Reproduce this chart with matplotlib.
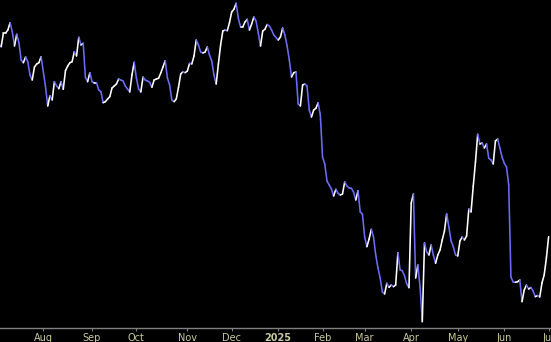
import numpy as np
import matplotlib
matplotlib.use("Agg")
import matplotlib.pyplot as plt
from matplotlib.collections import LineCollection

# NYSE holidays in the period (trading-day axis)
holidays = ["2024-07-04", "2024-09-02", "2024-11-28", "2024-12-25", "2025-01-01",
            "2025-01-09", "2025-01-20", "2025-02-17", "2025-04-18", "2025-05-26",
            "2025-06-19", "2025-07-04"]

dates = [
    "2024-07-03", "2024-07-05", "2024-07-08", "2024-07-09", "2024-07-10", "2024-07-11", "2024-07-12",
    "2024-07-15", "2024-07-16", "2024-07-17", "2024-07-18", "2024-07-19", "2024-07-22", "2024-07-23",
    "2024-07-24", "2024-07-25", "2024-07-26", "2024-07-29", "2024-07-30", "2024-07-31",
    "2024-08-02", "2024-08-05", "2024-08-06", "2024-08-07", "2024-08-08", "2024-08-09", "2024-08-12",
    "2024-08-13", "2024-08-14", "2024-08-15", "2024-08-16", "2024-08-19", "2024-08-20", "2024-08-21",
    "2024-08-22", "2024-08-23", "2024-08-26", "2024-08-27", "2024-08-28", "2024-08-29", "2024-08-30",
    "2024-09-03", "2024-09-04", "2024-09-05", "2024-09-06", "2024-09-09", "2024-09-10", "2024-09-11",
    "2024-09-12", "2024-09-13", "2024-09-16", "2024-09-17", "2024-09-18", "2024-09-19", "2024-09-20",
    "2024-09-23", "2024-09-24", "2024-09-25", "2024-09-26", "2024-09-27", "2024-09-30",
    "2024-10-01", "2024-10-02", "2024-10-03", "2024-10-04", "2024-10-07", "2024-10-08", "2024-10-09",
    "2024-10-10", "2024-10-11", "2024-10-14", "2024-10-15", "2024-10-16", "2024-10-17", "2024-10-18",
    "2024-10-21", "2024-10-22", "2024-10-23", "2024-10-24", "2024-10-25", "2024-10-28", "2024-10-29",
    "2024-10-30", "2024-10-31",
    "2024-11-01", "2024-11-04", "2024-11-05", "2024-11-06", "2024-11-07", "2024-11-08", "2024-11-11",
    "2024-11-12", "2024-11-13", "2024-11-14", "2024-11-15", "2024-11-18", "2024-11-19", "2024-11-20",
    "2024-11-21", "2024-11-22", "2024-11-25", "2024-11-26", "2024-11-27", "2024-11-29",
    "2024-12-02", "2024-12-03", "2024-12-04", "2024-12-05", "2024-12-06", "2024-12-09", "2024-12-10",
    "2024-12-11", "2024-12-12", "2024-12-13", "2024-12-16", "2024-12-17", "2024-12-18", "2024-12-19",
    "2024-12-20", "2024-12-23", "2024-12-24", "2024-12-26", "2024-12-27", "2024-12-30", "2024-12-31",
    "2025-01-02", "2025-01-03", "2025-01-06", "2025-01-07", "2025-01-08", "2025-01-10", "2025-01-13",
    "2025-01-14", "2025-01-15", "2025-01-16", "2025-01-17", "2025-01-21", "2025-01-22", "2025-01-23",
    "2025-01-24", "2025-01-27", "2025-01-28", "2025-01-29", "2025-01-30", "2025-01-31",
    "2025-02-03", "2025-02-04", "2025-02-05", "2025-02-06", "2025-02-07", "2025-02-10", "2025-02-11",
    "2025-02-12", "2025-02-13", "2025-02-14", "2025-02-18", "2025-02-19", "2025-02-20", "2025-02-21",
    "2025-02-24", "2025-02-25", "2025-02-26", "2025-02-27", "2025-02-28",
    "2025-03-03", "2025-03-04", "2025-03-05", "2025-03-06", "2025-03-07", "2025-03-10", "2025-03-11",
    "2025-03-12", "2025-03-13", "2025-03-14", "2025-03-17", "2025-03-18", "2025-03-19", "2025-03-20",
    "2025-03-21", "2025-03-24", "2025-03-25", "2025-03-26", "2025-03-27", "2025-03-28", "2025-03-31",
    "2025-04-01", "2025-04-02", "2025-04-03", "2025-04-04", "2025-04-07", "2025-04-08", "2025-04-09",
    "2025-04-10", "2025-04-11", "2025-04-14", "2025-04-15", "2025-04-16", "2025-04-17", "2025-04-21",
    "2025-04-22", "2025-04-23", "2025-04-24", "2025-04-25", "2025-04-28", "2025-04-29", "2025-04-30",
    "2025-05-01", "2025-05-02", "2025-05-05", "2025-05-06", "2025-05-07", "2025-05-08", "2025-05-09",
    "2025-05-12", "2025-05-13", "2025-05-14", "2025-05-15", "2025-05-16", "2025-05-19", "2025-05-20",
    "2025-05-21", "2025-05-22", "2025-05-23", "2025-05-27", "2025-05-28", "2025-05-29", "2025-05-30",
    "2025-06-02", "2025-06-03", "2025-06-04", "2025-06-05", "2025-06-06", "2025-06-09", "2025-06-10",
    "2025-06-11", "2025-06-12", "2025-06-13", "2025-06-16", "2025-06-17", "2025-06-18", "2025-06-20",
    "2025-06-23", "2025-06-24", "2025-06-25", "2025-06-26", "2025-06-27", "2025-06-30", "2025-07-01",
]

values = [
    286, 283.3, 297, 297, 300, 307.3, 298.3,
    284, 295.7, 287.3, 270, 267.3, 273, 268.3,
    255, 250, 263, 266, 267.3, 273.3,
    243.3, 224, 234.3, 230, 248.3, 244, 241.3,
    248.3, 240.7, 259.3, 264, 267.3, 268.3, 278.3,
    274, 292.7, 285, 286.7, 252.7, 248.3, 257.3,
    248.3, 247.3, 247.3, 240, 238.3, 227.3, 228.3,
    231, 233.3, 242, 244, 246, 251, 250,
    249, 244, 241, 238, 255, 267.7,
    252, 241, 238, 253, 250, 249, 247.7,
    242.7, 250, 251, 251.7, 257, 263, 269.3,
    252, 245, 230, 228.3, 231, 242.7, 256,
    258.3, 257.3,
    259, 266.7, 266, 274, 290, 285, 278,
    277, 278, 283, 275, 269, 255, 246,
    266, 285, 299, 300, 299.3, 307.3,
    318, 320.7, 326.7, 311.7, 303, 303, 308,
    310.7, 300, 306, 313, 309, 297, 284,
    299, 300.7, 305.5, 304, 300, 295, 292.5,
    290, 293, 302, 295, 284, 270, 253,
    257.3, 258, 226, 224, 245, 246, 244,
    220, 213, 220, 221.7, 227.3, 215,
    173, 166, 149, 145, 141, 134, 140.7,
    136.7, 135, 136, 148, 144, 142, 141.7,
    138, 130, 139.3, 118, 116,
    93, 83.3, 91, 100.7, 93, 75, 62,
    52, 38, 36, 46.7, 42.7, 45, 43.3,
    45, 77.3, 60, 59.3, 54, 46, 42.3,
    127, 136, 52, 65, 43, 8.3, 87,
    78, 75, 85, 75, 66.7, 75, 80,
    90, 99, 116, 103, 89, 83.3, 75,
    74, 89, 93, 90, 94, 121, 118,
    144, 168, 195.7, 186, 187, 182, 186,
    171.7, 170, 166, 189, 191, 182, 173,
    166.7, 163, 145, 53, 48, 47.7, 48.3,
    50, 28.3, 40, 45, 41, 42.5, 39,
    33.3, 34.5, 33, 47, 55, 72, 93.3,
]

tick_months = ["2024-08", "2024-09", "2024-10", "2024-11", "2024-12", "2025-01",
               "2025-02", "2025-03", "2025-04", "2025-05", "2025-06", "2025-07"]
tick_labels = ["Aug", "Sep", "Oct", "Nov", "Dec", "2025", "Feb", "Mar", "Apr", "May", "Jun", "Jul"]

ORIGIN = "2024-08-01"
x = np.busday_count(ORIGIN, np.array(dates, dtype="datetime64[D]"), holidays=holidays).astype(float)
y = np.array(values, dtype=float)

first_days = np.busday_offset(np.array([m + "-01" for m in tick_months], dtype="datetime64[D]"),
                              0, roll="forward", holidays=holidays)
tick_pos = np.busday_count(ORIGIN, first_days, holidays=holidays)

fig = plt.figure(figsize=(5.51, 3.42), dpi=100, facecolor="black")
ax = fig.add_axes([0, 14 / 342, 1, 328 / 342])
ax.set_facecolor("black")

pts = np.column_stack([x, y]).reshape(-1, 1, 2)
segs = np.concatenate([pts[:-1], pts[1:]], axis=1)
colors = ["#ffffff" if y[i + 1] >= y[i] else "#6b6bf5" for i in range(len(y) - 1)]
lc = LineCollection(segs, colors=colors, linewidths=1.15, capstyle="round", joinstyle="round")
ax.add_collection(lc)

ax.set_xlim(-19.54, 229.08)
ax.set_ylim(2, 330)

for s in ["top", "left", "right"]:
    ax.spines[s].set_visible(False)
ax.spines["bottom"].set_color("#808080")
ax.spines["bottom"].set_linewidth(1.0)

ax.set_yticks([])
ax.set_xticks(tick_pos)
ax.set_xticklabels(tick_labels)
ax.tick_params(axis="x", direction="out", length=2.2, width=0.8, color="#808080",
               pad=1.2, labelsize=7, labelcolor="#c8c89a")
for lbl in ax.get_xticklabels():
    if lbl.get_text() == "2025":
        lbl.set_fontweight("bold")
        lbl.set_color("#c8c8a0")

fig.savefig("out.png", dpi=100, facecolor="black")
